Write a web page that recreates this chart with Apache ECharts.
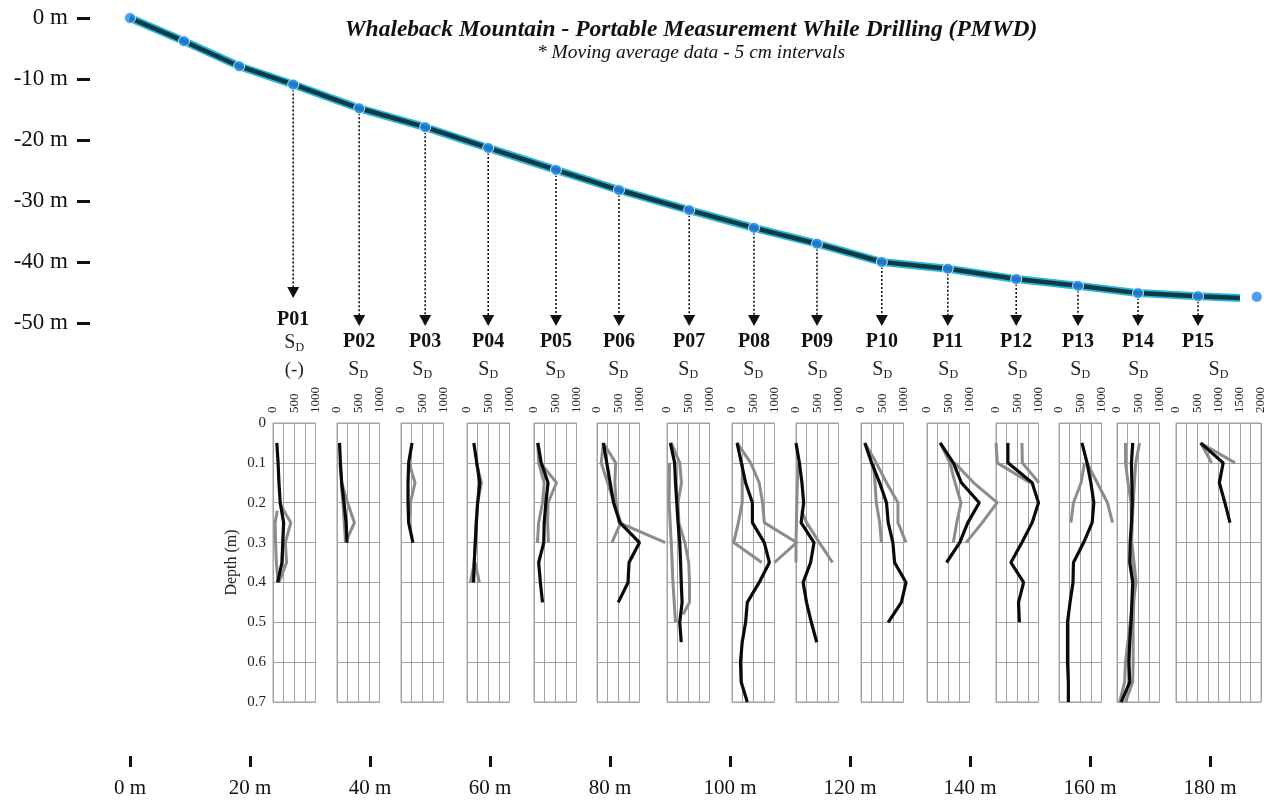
<!DOCTYPE html>
<html><head><meta charset="utf-8">
<script src="https://cdn.jsdelivr.net/npm/echarts@6/dist/echarts.min.js"></script>
<style>html,body{margin:0;padding:0;background:#fff}#c{width:1271px;height:810px}</style>
</head><body><div id="c"></div>
<script>
const SERIF = '"Liberation Serif", "Times New Roman", serif';

// ---------- Surface profile (distance m, elevation m) ----------
const surveyX = [0, 9.0, 18.2, 27.2, 38.2, 49.2, 59.7, 71.0, 81.5, 93.2, 104.0, 114.5, 125.3, 136.3, 147.7, 158.0, 168.0, 178.0, 187.8];
const surveyY = [0, -3.8, -7.9, -10.9, -14.8, -17.9, -21.3, -24.9, -28.2, -31.5, -34.4, -37.0, -40.0, -41.1, -42.8, -43.9, -45.1, -45.6, -45.7];
const profileX = [0, 9.0, 18.2, 27.2, 38.2, 49.2, 59.7, 71.0, 81.5, 93.2, 104.0, 114.5, 125.3, 136.3, 147.7, 158.0, 168.0, 178.0, 185.0];
const profileY = [0, -3.8, -7.9, -10.9, -14.8, -17.9, -21.3, -24.9, -28.2, -31.5, -34.4, -37.0, -40.0, -41.1, -42.8, -43.9, -45.1, -45.6, -45.9];

// ---------- Probes ----------
const probeNames = ['P01','P02','P03','P04','P05','P06','P07','P08','P09','P10','P11','P12','P13','P14','P15'];
const probeStation = [3,4,5,6,7,8,9,10,11,12,13,14,15,16,17];
const panelMax = [1000,1000,1000,1000,1000,1000,1000,1000,1000,1000,1000,1000,1000,1000,2000];
const distTicks = {min: 0, max: 180, step: 20};
const elevTicks = {min: -50, max: 0, step: 10};

// ---------- S_D profiles: [depth (m), S_D] ----------
const p01Black = [[0.05,90],[0.1,120],[0.15,140],[0.2,170],[0.25,250],[0.3,230],[0.35,210],[0.4,110]];
const p01GrayA = [[0.2,150],[0.25,420],[0.3,290],[0.35,320],[0.4,140]];
const p01GrayB = [[0.22,100],[0.25,50],[0.3,60],[0.35,80],[0.4,120]];
const p02Black = [[0.05,60],[0.1,80],[0.15,110],[0.2,165],[0.25,215],[0.3,235]];
const p02GrayA = [[0.1,70],[0.15,110],[0.2,250],[0.25,410],[0.3,200]];
const p02GrayB = [[0.15,100],[0.2,140],[0.25,170],[0.3,200]];
const p03Black = [[0.05,260],[0.1,180],[0.15,165],[0.2,165],[0.25,180],[0.3,280]];
const p03GrayA = [[0.1,190],[0.15,330],[0.2,220],[0.25,180]];
const p04Black = [[0.05,160],[0.1,230],[0.15,300],[0.2,250],[0.25,220],[0.3,195],[0.35,170],[0.4,155]];
const p04GrayA = [[0.1,220],[0.15,340],[0.2,250],[0.25,215],[0.3,190],[0.35,170],[0.4,80]];
const p04GrayB = [[0.35,190],[0.4,290]];
const p05Black = [[0.05,90],[0.1,170],[0.15,330],[0.2,280],[0.25,240],[0.3,230],[0.35,110],[0.4,150],[0.45,200]];
const p05GrayA = [[0.05,90],[0.1,150],[0.15,530],[0.2,330],[0.25,320],[0.3,340]];
const p05GrayB = [[0.05,90],[0.1,110],[0.15,240],[0.2,200],[0.25,110],[0.3,80]];
const p06Black = [[0.05,150],[0.1,230],[0.15,310],[0.2,390],[0.25,540],[0.3,1000],[0.35,754],[0.4,730],[0.45,500]];
const p06GrayA = [[0.05,150],[0.1,440],[0.15,420],[0.2,450],[0.25,520],[0.3,1610]];
const p06GrayB = [[0.05,150],[0.1,100],[0.15,250],[0.2,400],[0.25,560],[0.3,350]];
const p07Black = [[0.05,80],[0.1,180],[0.15,200],[0.2,230],[0.25,260],[0.3,300],[0.35,320],[0.4,335],[0.45,355],[0.5,300],[0.55,335]];
const p07GrayA = [[0.05,100],[0.1,300],[0.15,340],[0.2,260],[0.25,280],[0.3,420],[0.35,510],[0.4,530],[0.45,530],[0.48,380]];
const p07GrayB = [[0.1,60],[0.2,50],[0.3,100],[0.4,140],[0.5,200]];
const p08Black = [[0.05,120],[0.1,220],[0.15,320],[0.2,480],[0.25,480],[0.3,760],[0.35,880],[0.4,640],[0.45,360],[0.5,320],[0.55,240],[0.6,200],[0.65,216],[0.7,360]];
const p08GrayA = [[0.05,120],[0.1,440],[0.15,640],[0.2,720],[0.25,760],[0.3,1520],[0.35,1000]];
const p08GrayB = [[0.1,250],[0.15,240],[0.2,240],[0.25,150],[0.3,40],[0.35,700]];
const p09Black = [[0.05,0],[0.1,80],[0.15,140],[0.2,180],[0.25,120],[0.3,424],[0.35,344],[0.4,168],[0.45,248],[0.5,360],[0.55,488]];
const p09GrayA = [[0.1,60],[0.15,30],[0.2,20],[0.25,10],[0.3,0],[0.35,0]];
const p09GrayB = [[0.22,130],[0.25,250],[0.3,550],[0.35,860]];
const p10Black = [[0.05,90],[0.1,250],[0.15,440],[0.2,600],[0.25,640],[0.3,750],[0.35,790],[0.4,1060],[0.45,950],[0.5,640]];
const p10GrayA = [[0.05,90],[0.1,360],[0.15,600],[0.2,870],[0.25,870],[0.3,1060]];
const p10GrayB = [[0.1,290],[0.15,330],[0.2,360],[0.25,440],[0.3,480]];
const p11Black = [[0.05,310],[0.1,620],[0.15,810],[0.2,1230],[0.25,960],[0.3,770],[0.35,460]];
const p11GrayA = [[0.05,310],[0.1,540],[0.15,660],[0.2,800],[0.25,700],[0.3,620]];
const p11GrayB = [[0.1,650],[0.15,1100],[0.2,1650],[0.25,1300],[0.3,920]];
const p12Black = [[0.05,280],[0.1,280],[0.15,850],[0.2,1000],[0.25,850],[0.3,610],[0.35,350],[0.4,650],[0.45,530],[0.5,550]];
const p12GrayA = [[0.05,0],[0.1,30],[0.15,800]];
const p12GrayB = [[0.05,610],[0.1,620],[0.15,1010]];
const p13Black = [[0.05,540],[0.1,660],[0.15,750],[0.2,820],[0.25,780],[0.3,580],[0.35,340],[0.4,330],[0.45,260],[0.5,200],[0.55,200],[0.6,200],[0.65,220],[0.7,220]];
const p13GrayA = [[0.1,600],[0.15,520],[0.2,340],[0.25,280]];
const p13GrayB = [[0.1,660],[0.15,900],[0.2,1140],[0.25,1260]];
const p14Black = [[0.05,370],[0.1,340],[0.15,350],[0.2,360],[0.25,340],[0.3,310],[0.35,300],[0.4,370],[0.45,350],[0.5,330],[0.55,300],[0.6,280],[0.65,300],[0.7,100]];
const p14GrayA = [[0.05,200],[0.1,200],[0.15,260],[0.2,330],[0.3,350],[0.4,450],[0.5,310],[0.6,200],[0.65,180],[0.7,60]];
const p14GrayB = [[0.05,530],[0.1,440],[0.2,380],[0.3,340],[0.4,410],[0.5,380],[0.6,380],[0.65,370],[0.7,200]];
const p15Black = [[0.05,580],[0.1,1110],[0.15,1020],[0.2,1150],[0.25,1270]];
const p15GrayA = [[0.05,580],[0.1,840]];
const p15GrayB = [[0.05,580],[0.1,1390]];

const blackSets = [p01Black,p02Black,p03Black,p04Black,p05Black,p06Black,p07Black,p08Black,p09Black,p10Black,p11Black,p12Black,p13Black,p14Black,p15Black];
const graySets = [[p01GrayA,p01GrayB],[p02GrayA,p02GrayB],[p03GrayA],[p04GrayA,p04GrayB],[p05GrayA,p05GrayB],[p06GrayA,p06GrayB],[p07GrayA,p07GrayB],[p08GrayA,p08GrayB],[p09GrayA,p09GrayB],[p10GrayA,p10GrayB],[p11GrayA,p11GrayB],[p12GrayA,p12GrayB],[p13GrayA,p13GrayB],[p14GrayA,p14GrayB],[p15GrayA,p15GrayB]];

// ---------- Layout (pixels) ----------
const panelLeft = [273,337,401,467,534,597,667,732,796,861,927,996,1059,1117,1176];
const PANEL_TOP = 423, PANEL_H = 279, PX_PER_1000 = 42.5, DATA_SPAN = 2000;

const chart = echarts.init(document.getElementById('c'), null, {renderer: 'canvas'});

const grids = [
  {left: 130, top: 18, width: 1140, height: 305},
  {left: 130, top: 700, width: 1080, height: 56},
  {left: 90, top: 18, width: 10, height: 305}
];
const xAxes = [
  {gridIndex: 0, type: 'value', min: 0, max: 190, show: false},
  {gridIndex: 1, type: 'value', min: distTicks.min, max: distTicks.max, interval: distTicks.step, position: 'bottom',
   axisLine: {show: false, onZero: false}, splitLine: {show: false},
   axisTick: {show: true, length: 11, lineStyle: {color: '#111', width: 3}},
   axisLabel: {formatter: '{value} m', fontFamily: SERIF, fontSize: 21, color: '#111', margin: 22}},
  {gridIndex: 2, type: 'value', show: false}
];
const yAxes = [
  {gridIndex: 0, type: 'value', min: elevTicks.min, max: elevTicks.max, show: false},
  {gridIndex: 1, type: 'value', show: false},
  {gridIndex: 2, type: 'value', min: elevTicks.min, max: elevTicks.max, interval: elevTicks.step, position: 'left',
   axisLine: {show: false, onZero: false}, splitLine: {show: false},
   axisTick: {show: true, length: 13, lineStyle: {color: '#111', width: 3}},
   axisLabel: {formatter: '{value} m', fontFamily: SERIF, fontSize: 23, color: '#111', margin: 22}}
];
const series = [
  {type: 'line', xAxisIndex: 0, yAxisIndex: 0, data: profileX.map((x, i) => [x, profileY[i]]),
   showSymbol: false, lineStyle: {color: '#2bb6dc', width: 8}, z: 2, silent: true},
  {type: 'line', xAxisIndex: 0, yAxisIndex: 0, data: profileX.map((x, i) => [x, profileY[i]]),
   showSymbol: false, lineStyle: {color: '#0d3a45', width: 4.5}, z: 3, silent: true},
  {type: 'custom', xAxisIndex: 0, yAxisIndex: 0, z: 4,
   data: probeStation.map((k, i) => [surveyX[k], surveyY[k], i]),
   renderItem: function (params, api) {
     const p = api.coord([api.value(0), api.value(1)]);
     const first = params.dataIndex === 0;
     const tipY = first ? 298 : 326;
     const labelY = first ? 320 : 342;
     return {type: 'group', children: [
       {type: 'line', shape: {x1: p[0], y1: p[1] + 5, x2: p[0], y2: tipY - 10},
        style: {stroke: '#111', lineWidth: 1.6, lineDash: [2, 2]}},
       {type: 'polygon', shape: {points: [[p[0] - 6, tipY - 11], [p[0] + 6, tipY - 11], [p[0], tipY]]},
        style: {fill: '#111'}},
       {type: 'text', x: p[0], y: labelY,
        style: {text: probeNames[params.dataIndex], font: 'bold 20px ' + SERIF, align: 'center', verticalAlign: 'middle', textAlign: 'center', textVerticalAlign: 'middle', fill: '#111'}}
     ]};
   }},
  {type: 'scatter', xAxisIndex: 0, yAxisIndex: 0, z: 5, data: surveyX.map((x, i) => [x, surveyY[i]]),
   symbolSize: 11, itemStyle: {color: '#2288ea', borderColor: '#ffffff', borderWidth: 1}, silent: true}
];

const sdRich = {
  s: {fontFamily: SERIF, fontSize: 20, color: '#222'},
  d: {fontFamily: SERIF, fontSize: 12, color: '#222', padding: [10, 0, 0, 0]},
  p: {fontFamily: SERIF, fontSize: 19, color: '#222'}
};

probeNames.forEach((name, i) => {
  const g = grids.length;
  grids.push({left: panelLeft[i], top: PANEL_TOP, width: panelMax[i] / 1000 * PX_PER_1000, height: PANEL_H,
              show: true, borderColor: '#a3a3a3', borderWidth: 1, backgroundColor: 'transparent'});
  xAxes.push({gridIndex: g, type: 'value', position: 'top', min: 0, max: panelMax[i], interval: 250,
    axisLine: {show: false}, axisTick: {show: false},
    splitLine: {show: true, lineStyle: {color: '#a3a3a3', width: 1}},
    axisLabel: {rotate: 90, fontFamily: SERIF, fontSize: 13, color: '#222', margin: 10,
      formatter: v => (v % 500 === 0 ? String(v) : '')},
    name: i === 0 ? '{s|S}{d|D}\n{p|(-)}' : '{s|S}{d|D}', nameLocation: 'middle', nameGap: 36,
    nameTextStyle: {rich: sdRich, lineHeight: 27}});
  yAxes.push({gridIndex: g, type: 'value', inverse: true, min: 0, max: 0.7, interval: 0.1,
    axisLine: {show: false}, axisTick: {show: false},
    splitLine: {show: true, lineStyle: {color: '#a3a3a3', width: 1}},
    axisLabel: {show: i === 0, fontFamily: SERIF, fontSize: 15, color: '#222', margin: 7},
    name: i === 0 ? 'Depth (m)' : '', nameLocation: 'middle', nameGap: 33, nameRotate: 90,
    nameTextStyle: {fontFamily: SERIF, fontSize: 16, color: '#222'}});
  // hidden data grid sharing the same scale but with a wider extent, so peaks can run past the frame
  const d = grids.length;
  grids.push({left: panelLeft[i], top: PANEL_TOP, width: DATA_SPAN / 1000 * PX_PER_1000, height: PANEL_H, show: false});
  xAxes.push({gridIndex: d, type: 'value', min: 0, max: DATA_SPAN, show: false});
  yAxes.push({gridIndex: d, type: 'value', inverse: true, min: 0, max: 0.7, show: false});
  graySets[i].forEach(set => {
    series.push({type: 'line', xAxisIndex: d, yAxisIndex: d, data: set.map(v => [v[1], v[0]]),
      showSymbol: false, clip: false, lineStyle: {color: '#8c8c8c', width: 3}, z: 3, silent: true});
  });
  series.push({type: 'line', xAxisIndex: d, yAxisIndex: d, data: blackSets[i].map(v => [v[1], v[0]]),
    showSymbol: false, clip: false, lineStyle: {color: '#0a0a0a', width: 3.2}, z: 4, silent: true});
});

chart.setOption({
  animation: false,
  backgroundColor: '#ffffff',
  grid: grids, xAxis: xAxes, yAxis: yAxes, series: series,
  graphic: [
    {type: 'text', x: 691, y: 30, style: {text: 'Whaleback Mountain - Portable Measurement While Drilling (PMWD)',
      font: 'italic bold 23.5px ' + SERIF, align: 'center', verticalAlign: 'middle', textAlign: 'center', textVerticalAlign: 'middle', fill: '#111'}},
    {type: 'text', x: 691, y: 53, style: {text: '* Moving average data - 5 cm intervals',
      font: 'italic 19.5px ' + SERIF, align: 'center', verticalAlign: 'middle', textAlign: 'center', textVerticalAlign: 'middle', fill: '#111'}}
  ]
});
</script></body></html>
